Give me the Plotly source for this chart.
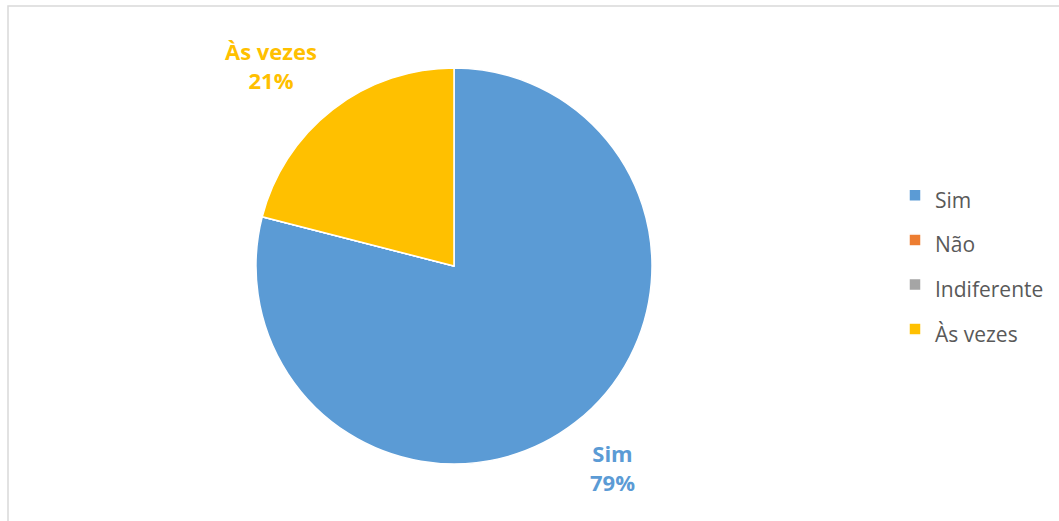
import plotly.graph_objects as go

W, H = 1059, 521

categories = ["Sim", "Não", "Indiferente", "Às vezes"]
values = [79, 0, 0, 21]
colors = ["#5B9BD5", "#ED7D31", "#A5A5A5", "#FFC000"]

# data-label texts and their anchor positions (px)
label_texts = {"Sim": "Sim<br>79%", "Às vezes": "Às vezes<br>21%"}
label_pos = {"Sim": (612, 467), "Às vezes": (271, 66)}

cx, cy, r = 454, 266, 198

def px(x):
    return x / W

def py(y):
    return 1 - y / H

fig = go.Figure()
fig.add_trace(go.Pie(
    labels=[f'<span style="font-size:21px">{c}</span>' for c in categories],
    values=values,
    sort=False,
    direction="clockwise",
    rotation=0,
    marker=dict(colors=colors, line=dict(color="white", width=1.5)),
    textinfo="none",
    hoverinfo="label+percent",
    domain=dict(x=[px(cx - r), px(cx + r)], y=[py(cy + r), py(cy - r)]),
))

annotations = []
for cat, col in zip(categories, colors):
    if cat in label_texts:
        x, y = label_pos[cat]
        annotations.append(dict(
            x=px(x), y=py(y), xref="paper", yref="paper",
            text=f"<b>{label_texts[cat]}</b>", showarrow=False,
            font=dict(family="Open Sans", size=22, color=col),
            xanchor="center", yanchor="middle",
        ))

fig.update_layout(
    width=W, height=H,
    margin=dict(l=0, r=0, t=0, b=0),
    paper_bgcolor="white",
    plot_bgcolor="white",
    font=dict(family="Open Sans", color="#595959"),
    showlegend=True,
    legend=dict(
        x=px(895), xanchor="left", y=py(262.5), yanchor="middle",
        font=dict(family="Open Sans", size=32, color="#595959"),
        bgcolor="rgba(0,0,0,0)",
    ),
    annotations=annotations,
    shapes=[dict(
        type="rect", xref="paper", yref="paper",
        x0=px(8), x1=1.01, y0=-0.01, y1=py(6),
        line=dict(color="#D9D9D9", width=1.5), fillcolor="rgba(0,0,0,0)",
        layer="below",
    )],
)

fig.write_html("out.html")
